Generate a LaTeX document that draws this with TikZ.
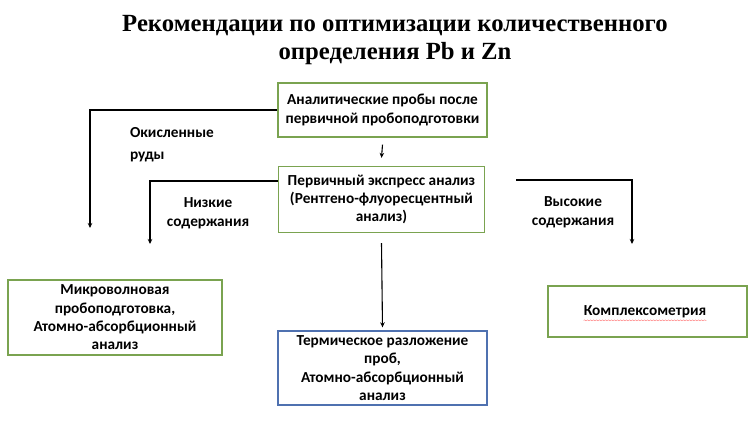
\documentclass[tikz,border=0pt]{standalone}
\usepackage{fontspec}
\setmainfont{Liberation Serif}
\newfontfamily\boxfont{Carlito}
\usetikzlibrary{arrows.meta,decorations.pathmorphing}
\definecolor{boxgreen}{RGB}{122,163,80}
\definecolor{boxblue}{RGB}{79,113,176}
\tikzset{
  flowbox/.style={draw=boxgreen, line width=1.3pt, inner sep=0pt, align=center,
    font=\boxfont\bfseries\fontsize{15.3}{18.3}\selectfont},
  bluebox/.style={flowbox, draw=boxblue},
  lbl/.style={align=center, inner sep=0pt, font=\boxfont\bfseries\fontsize{15.3}{19}\selectfont},
  conn/.style={draw=black, line width=1.1pt, -{Stealth[length=5pt,width=4.5pt]}},
  titletext/.style={align=center, inner sep=0pt, font=\bfseries\fontsize{24.7}{28}\selectfont}
}
\begin{document}
\begin{tikzpicture}[x=1pt,y=-1pt]
\useasboundingbox (0,0) rectangle (755,422);
\node[titletext] (title) at (395,40) {Рекомендации по оптимизации количественного\\определения Pb и Zn};
\node[flowbox, minimum width=209pt, minimum height=54pt] (top) at (382.5,110) {Аналитические пробы после\\первичной пробоподготовки};
\node[flowbox, minimum width=206pt, minimum height=66pt] (xrf) at (381.5,199.5) {Первичный экспресс анализ\\(Рентгено-флуоресцентный\\анализ)};
\node[flowbox, minimum width=214pt, minimum height=75pt] (micro) at (115,317.5) {Микроволновая\\пробоподготовка,\\Атомно-абсорбционный\\анализ};
\node[flowbox, minimum width=199pt, minimum height=51pt] (complex) at (647.5,311.5) {};
\node[lbl] (complextxt) at (645,312) {Комплексометрия};
\node[bluebox, minimum width=209pt, minimum height=74pt] (therm) at (382.5,368) {Термическое разложение\\проб,\\Атомно-абсорбционный\\анализ};
\draw[red!55, line width=0.4pt, decorate, decoration={snake, amplitude=0.5pt, segment length=3pt}]
  ([yshift=-2pt]complextxt.south west) -- ([yshift=-2pt]complextxt.south east);
% labels
\node[lbl, align=left, font=\boxfont\bfseries\fontsize{15.3}{21.5}\selectfont] (oxid) at (172,144.5) {Окисленные\\руды};
\node[lbl] (low) at (208,213) {Низкие\\содержания};
\node[lbl] (high) at (573,212.5) {Высокие\\содержания};
% arrow ends
\coordinate (a1) at (90,110);
\coordinate (a1e) at (90,228);
\coordinate (a2) at (150,181);
\coordinate (a2e) at (150,244);
\coordinate (a3s) at (516,180);
\coordinate (a3) at (632,180);
\coordinate (a3e) at (632,244);
\draw[conn] (top.west) -- (a1) -- (a1e);
\draw[conn] (xrf.west |- a2) -- (a2) -- (a2e);
\draw[conn] (a3s) -- (a3) -- (a3e);
\draw[conn] ([yshift=-7pt]top.south) -- ([yshift=8pt]xrf.north);
\draw[conn] ([yshift=-10pt]xrf.south) -- ([yshift=3pt]therm.north);
\end{tikzpicture}
\end{document}
